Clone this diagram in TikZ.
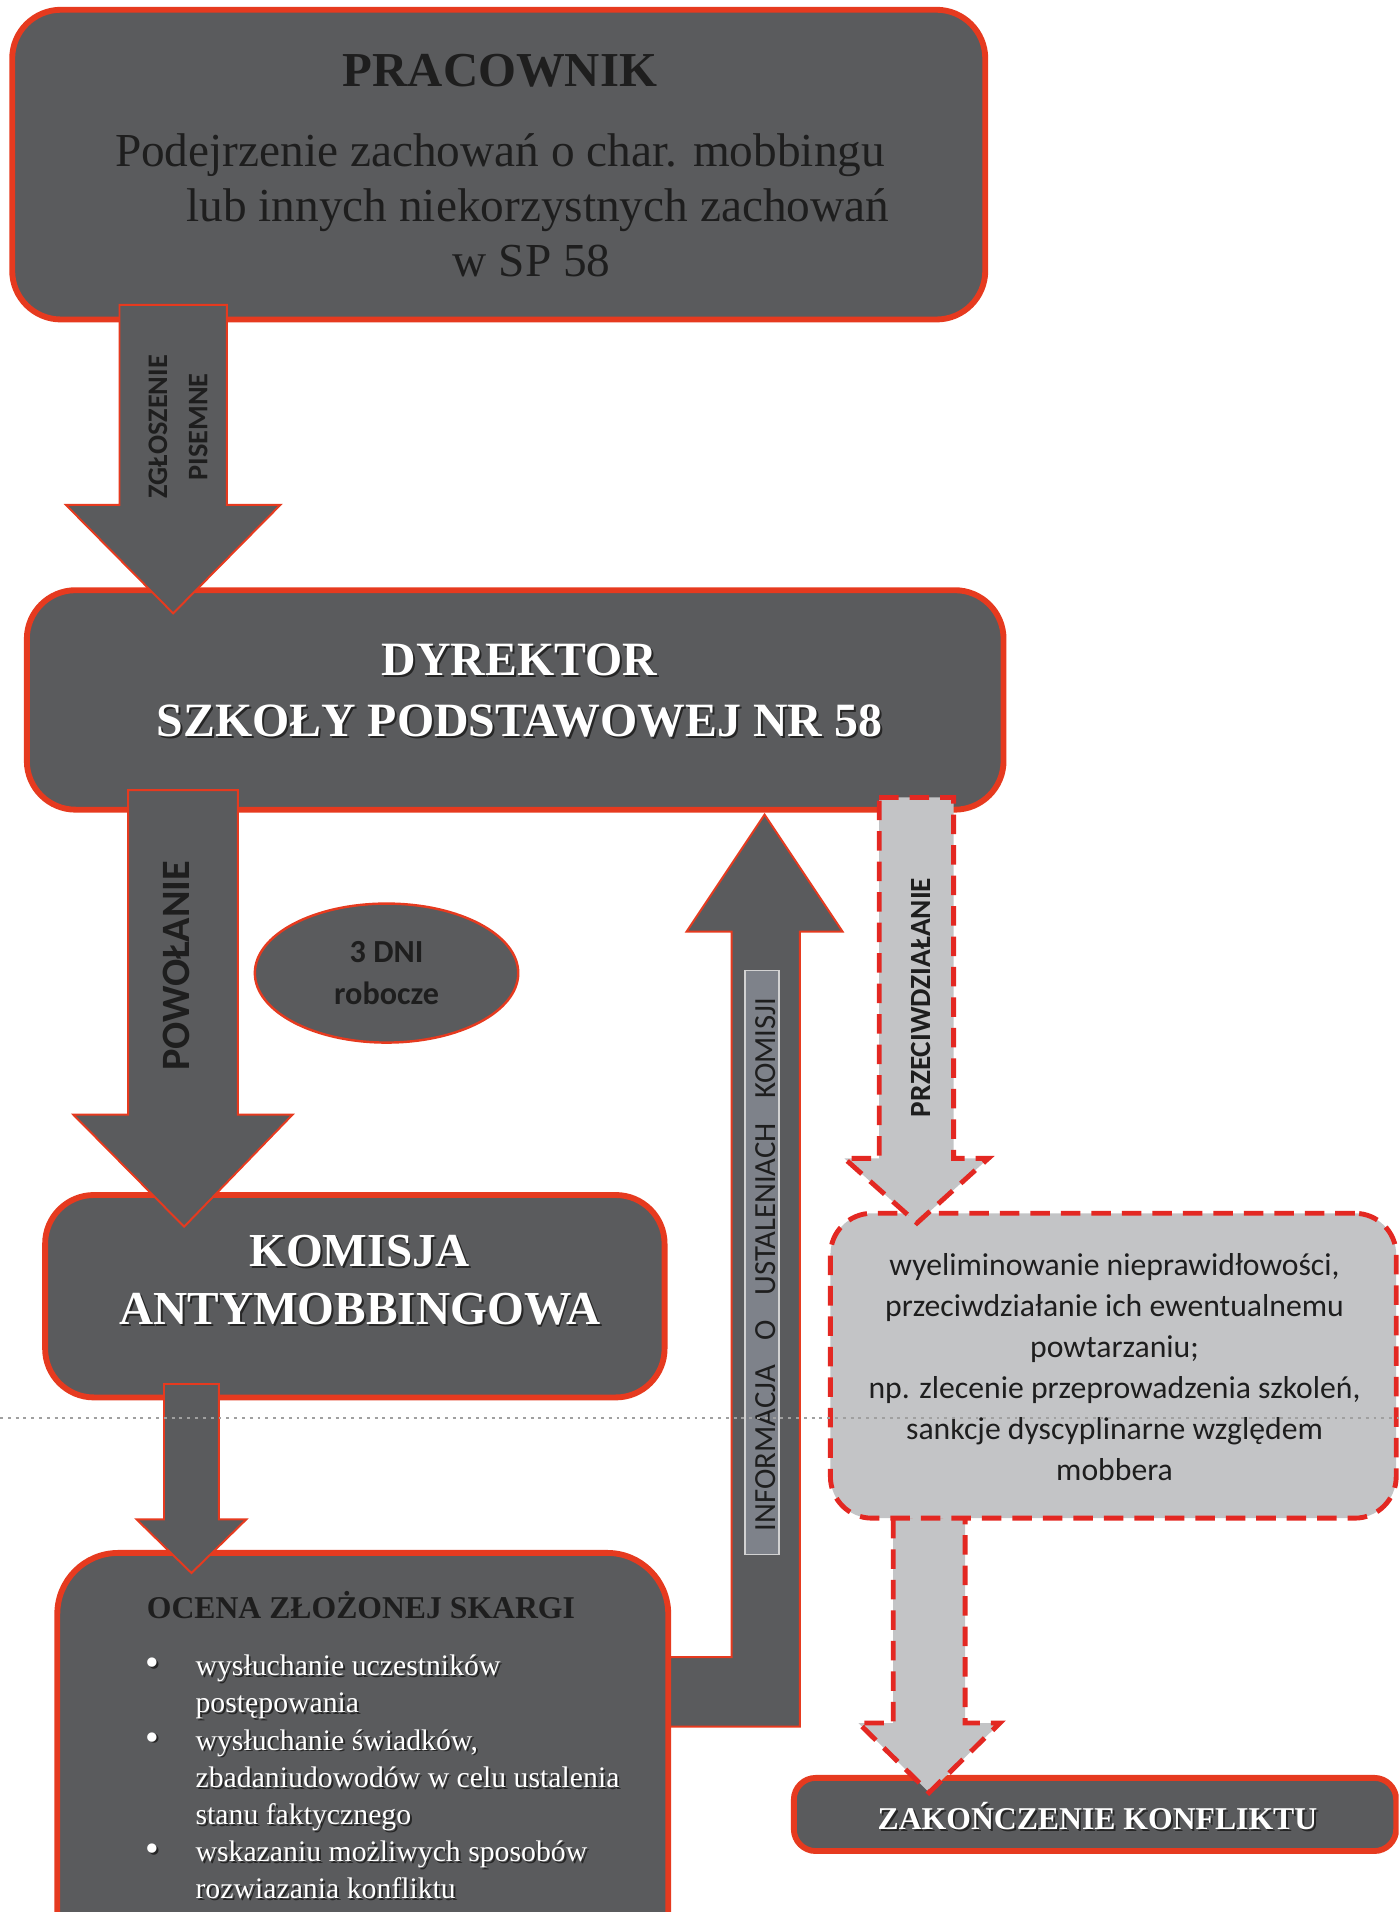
\documentclass[tikz,border=0pt]{standalone}
\usepackage{fontspec}
\setmainfont{Liberation Serif}
\newfontfamily\calibrifont{Carlito}
\usetikzlibrary{calc, shapes.geometric}
\definecolor{box_dark}{HTML}{5A5B5D}
\definecolor{box_light}{HTML}{C3C4C6}
\definecolor{edge_red}{HTML}{E63A1F}
\definecolor{dash_red}{HTML}{E32822}
\definecolor{label_gray}{HTML}{7E828A}
\definecolor{ink_dark}{HTML}{1E1E1E}
\definecolor{scan_gray}{HTML}{A0A0A0}

% white text with a dark drop shadow: name, position, options, text
\newcommand\embossed[4]{%
  \node[#3, text=black!85, xshift=0.8pt, yshift=-0.8pt] (#1-shadow) at (#2) {#4};
  \node[#3, text=white] (#1) at (#2) {#4};
}
% bullet hanging left of a list line
\newcommand\itemdot{\makebox[0pt][r]{{\fontsize{16}{16}\selectfont\textbullet}\hspace{15pt}}}
% block arrow pointing down: style, shaft top, tip, half shaft, half head, head length
\newcommand\blockdown[6]{%
  \draw[#1] let \p1=(#2), \p2=(#3) in
    (\x1-#4,\y1) -- (\x1+#4,\y1) -- (\x1+#4,\y2+#6) -- (\x1+#5,\y2+#6)
    -- (\x2,\y2) -- (\x1-#5,\y2+#6) -- (\x1-#4,\y2+#6) -- cycle;
}

\begin{document}
\begin{tikzpicture}[
    x=0.5pt, y=-0.5pt,
    darkbox/.style={draw=edge_red, line width=2.4pt, fill=box_dark, rounded corners=20pt, inner sep=0pt},
    lightbox/.style={draw=dash_red, line width=2pt, dash pattern=on 8pt off 4.5pt, fill=box_light, rounded corners=17pt, inner sep=0pt},
    darkarrow/.style={draw=edge_red, line width=0.8pt, fill=box_dark},
    lightarrow/.style={draw=dash_red, line width=2pt, dash pattern=on 8pt off 4.5pt, fill=box_light},
    sanslabel/.style={text=ink_dark, align=center, rotate=90}
]
\useasboundingbox (0,0) rectangle (1147,1568);
\clip (0,0) rectangle (1147,1568);

% Coordinates: 1 unit = one pixel of the 1147 x 1568 page, y grows downwards

% Employee box (top)
\node[darkbox, minimum width=399pt, minimum height=127pt] (pracownik) at (409,135) {};
\node[text=ink_dark, align=center, font=\fontsize{19.4}{22.7}\selectfont] (pracownik-text) at (410,136)
    {{\bfseries\fontsize{20}{24}\selectfont PRACOWNIK}\\[10pt]
     Podejrzenie zachowań o char. mobbingu\\
     \hspace*{31pt}lub innych niekorzystnych zachowań\\
     \hspace*{26pt}w SP 58};

% Director box
\node[darkbox, minimum width=400.5pt, minimum height=90pt] (dyrektor) at (422.5,574) {};

% Written report: employee -> director
\coordinate (zgl-top) at (142,250);
\coordinate (zgl-tip) at (142,503);
\blockdown{darkarrow}{zgl-top}{zgl-tip}{22pt}{44pt}{44.5pt}
\node[sanslabel, font=\calibrifont\bfseries\fontsize{11.6}{16.5}\selectfont] (zgl-label) at (146,350) {ZGŁOSZENIE\\PISEMNE};

\embossed{dyrektor-text}{426,566}{align=center, font=\bfseries\fontsize{19.6}{25}\selectfont}{DYREKTOR\\SZKOŁY PODSTAWOWEJ NR 58}

% Bent arrow: assessment box -> director (drawn before the box so its border covers the stub)
\coordinate (info-tip) at (627,668);
\draw[darkarrow] (549,1359) -- (600,1359) -- (600,764) -- (563,764) -- (info-tip)
    -- (691,764) -- (656,764) -- (656,1416) -- (549,1416) -- cycle;
\node[fill=label_gray, draw=gray!35, line width=0.6pt, minimum width=14pt, minimum height=239.5pt, inner sep=0pt] (info-plate) at (625,1035.5) {};
\node[sanslabel, font=\calibrifont\fontsize{12.6}{15}\selectfont] (info-label) at (628,1037)
    {INFORMACJA\hspace{0.8em}O\hspace{0.8em}USTALENIACH\hspace{0.8em}KOMISJI};

% Commission box
\node[darkbox, minimum width=254pt, minimum height=83pt] (komisja) at (291,1063) {};
\embossed{komisja-text}{295,1050}{align=center, font=\bfseries\fontsize{19.4}{24}\selectfont}{KOMISJA\\ANTYMOBBINGOWA}

% Assessment box (runs off the bottom edge)
\node[darkbox, rounded corners=25pt, minimum width=250.5pt, minimum height=173.5pt] (ocena) at (297.5,1447) {};
\node[text=ink_dark, font=\bfseries\fontsize{13}{16}\selectfont] (ocena-title) at (296,1316) {OCENA ZŁOŻONEJ SKARGI};
\embossed{ocena-list}{160,1357}{anchor=north west, inner sep=0pt, align=left, font=\fontsize{12.2}{15.2}\selectfont}
    {\itemdot wysłuchanie uczestników\\
     postępowania\\
     \itemdot wysłuchanie świadków,\\
     zbadaniudowodów w celu ustalenia\\
     stanu faktycznego\\
     \itemdot wskazaniu możliwych sposobów\\
     rozwiazania konfliktu}

% Appointment: director -> commission
\coordinate (pow-top) at (150,648);
\coordinate (pow-tip) at (151,1006);
\blockdown{darkarrow}{pow-top}{pow-tip}{22.5pt}{45pt}{46pt}
\node[sanslabel, font=\calibrifont\bfseries\fontsize{16.5}{20}\selectfont] (pow-label) at (145,792) {POWOŁANIE};

% Commission -> assessment
\coordinate (kom-top) at (157,1135);
\coordinate (kom-tip) at (157,1290);
\blockdown{darkarrow}{kom-top}{kom-tip}{11.25pt}{22.5pt}{22pt}

% 3 working days
\node[ellipse, draw=edge_red, line width=1pt, fill=box_dark, minimum width=108pt, minimum height=57pt, inner sep=0pt,
      text=ink_dark, align=center, font=\calibrifont\bfseries\fontsize{13.2}{17}\selectfont] (dni) at (317,798) {3 DNI\\robocze};

% End of conflict box
\node[darkbox, rounded corners=9pt, minimum width=247pt, minimum height=30pt] (koniec) at (898,1488) {};

% Counteraction box -> end of conflict
\coordinate (wyn-top) at (762,1243);
\coordinate (wyn-tip) at (762,1470);
\blockdown{lightarrow}{wyn-top}{wyn-tip}{14.75pt}{29pt}{28.5pt}
\embossed{koniec-text}{900,1489}{font=\bfseries\fontsize{13}{16}\selectfont}{ZAKOŃCZENIE KONFLIKTU}

% Counteraction box
\node[lightbox, minimum width=232pt, minimum height=125pt] (przeciw) at (913,1120) {};
\node[text=ink_dark, align=center, font=\calibrifont\fontsize{13}{16.8}\selectfont] (przeciw-text) at (914,1121)
    {wyeliminowanie nieprawidłowości,\\
     przeciwdziałanie ich ewentualnemu\\
     powtarzaniu;\\
     np. zlecenie przeprowadzenia szkoleń,\\
     sankcje dyscyplinarne względem\\
     mobbera};

% Counteraction: director -> counteraction box
\coordinate (prz-top) at (751.5,654);
\coordinate (prz-tip) at (752,1003);
\blockdown{lightarrow}{prz-top}{prz-tip}{15.25pt}{29.5pt}{26.5pt}
\node[sanslabel, font=\calibrifont\bfseries\fontsize{12}{15}\selectfont] (prz-label) at (755,818) {PRZECIWDZIAŁANIE};

% Faint fold line of the scan
\draw[scan_gray, line width=0.6pt, dash pattern=on 1.2pt off 2pt] (0,1163) -- (1147,1163);

\end{tikzpicture}
\end{document}
